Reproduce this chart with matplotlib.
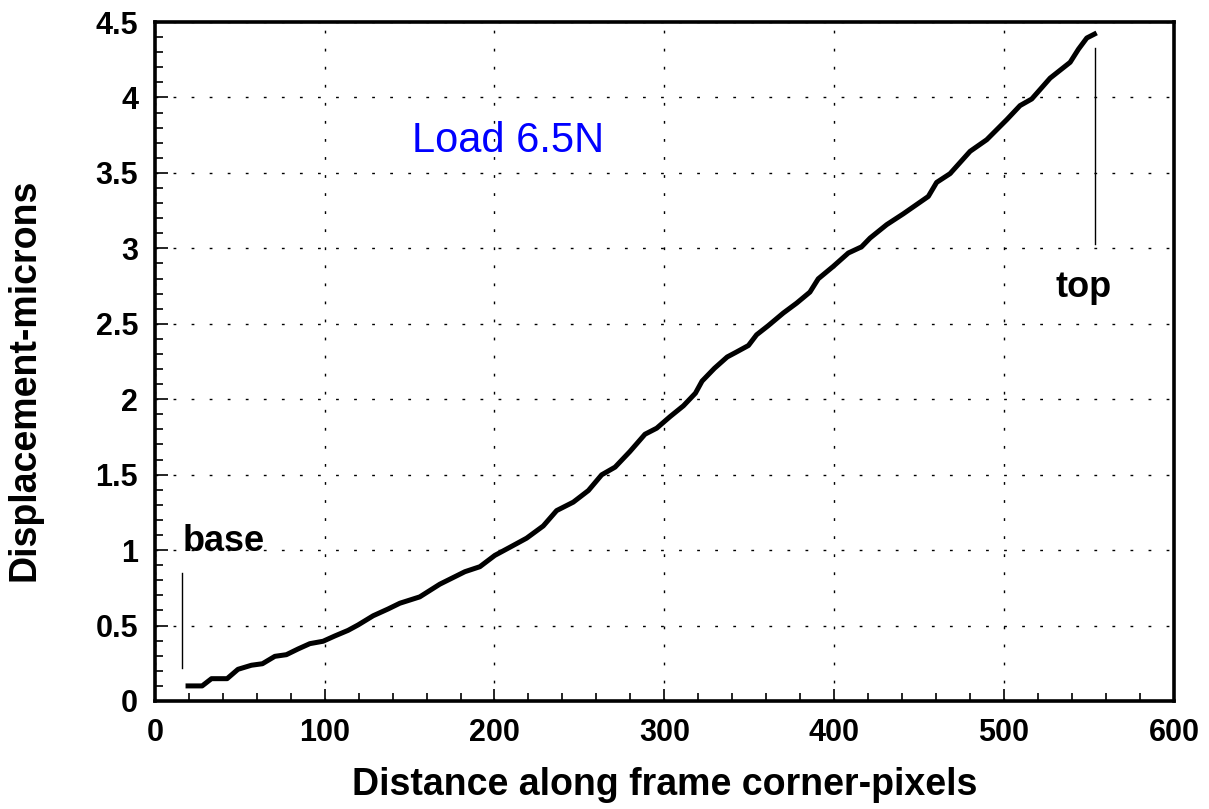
import numpy as np
import matplotlib
matplotlib.use('Agg')
import matplotlib.pyplot as plt
from matplotlib.ticker import MultipleLocator

plt.rcParams['font.family'] = ['Liberation Sans', 'DejaVu Sans']

# displacement along frame corner
distance = [19.6, 27.9, 33.4, 42.6, 49.0, 56.9, 63.4, 70.7, 77.5, 84.4, 91.3, 99.1,
            106.0, 113.8, 119.7, 128.6, 137.4, 144.3, 156.0, 167.8, 182.6, 191.4,
            200.2, 209.1, 218.9, 228.7, 236.6, 246.4, 255.3, 263.1, 271.0, 279.7,
            288.6, 295.5, 303.4, 311.2, 318.3, 322.2, 329.5, 337.0, 342.0, 349.5,
            354.3, 361.1, 370.0, 377.9, 385.7, 390.6, 399.4, 408.3, 416.1, 421.1,
            430.9, 440.7, 455.4, 460.3, 468.2, 480.0, 489.8, 501.6, 509.4, 516.3,
            527.1, 538.9, 543.8, 548.7, 553.2]
displacement = [0.10, 0.10, 0.148, 0.148, 0.21, 0.237, 0.247, 0.296, 0.307, 0.345, 0.38, 0.396,
                0.431, 0.468, 0.504, 0.565, 0.61, 0.648, 0.69, 0.774, 0.857, 0.89,
                0.965, 1.019, 1.079, 1.16, 1.262, 1.318, 1.395, 1.499, 1.55, 1.653,
                1.768, 1.808, 1.885, 1.956, 2.04, 2.12, 2.205, 2.28, 2.31, 2.356,
                2.427, 2.487, 2.571, 2.637, 2.71, 2.798, 2.88, 2.969, 3.01, 3.068,
                3.157, 3.229, 3.344, 3.437, 3.495, 3.643, 3.72, 3.853, 3.946, 3.99,
                4.128, 4.233, 4.32, 4.394, 4.42]

# marker lines for base and top of frame
base_x = 16.3
base_y = [0.22, 0.85]
top_x = 553.8
top_y = [3.03, 4.33]

fig = plt.figure(figsize=(12.09, 8.09), dpi=100)
ax = fig.add_axes([0.128, 0.1335, 0.843, 0.8393])

ax.plot(distance, displacement, color='black', linewidth=3.6, solid_joinstyle='round')
ax.plot([base_x, base_x], base_y, color='black', linewidth=1.0)
ax.plot([top_x, top_x], top_y, color='black', linewidth=1.0)

ax.text(151.4, 3.64, 'Load 6.5N', color='#0000ff', fontsize=30)
ax.text(16.5, 0.995, 'base', fontsize=26, fontweight='bold')
ax.text(530, 2.68, 'top', fontsize=26, fontweight='bold')

ax.set_xlim(0, 600)
ax.set_ylim(0, 4.5)
ax.xaxis.set_major_locator(MultipleLocator(100))
ax.xaxis.set_minor_locator(MultipleLocator(20))
ax.yaxis.set_minor_locator(MultipleLocator(0.1))
ax.set_yticks([0, 0.5, 1, 1.5, 2, 2.5, 3, 3.5, 4, 4.5])
ax.set_yticklabels(['0', '0.5', '1', '1.5', '2', '2.5', '3', '3.5', '4', '4.5'])

ax.tick_params(which='both', direction='in', top=False, right=False, width=1.2)
ax.tick_params(which='major', length=9, labelsize=22, pad=12)
ax.tick_params(which='minor', length=5.5)
for lab in ax.get_xticklabels() + ax.get_yticklabels():
    lab.set_fontweight('bold')

ax.grid(True, which='major', color='black', linewidth=1.0, linestyle=(0, (2, 11)))

for sp in ax.spines.values():
    sp.set_linewidth(2.6)

ax.set_xlabel('Distance along frame corner-pixels', fontsize=27, fontweight='bold', labelpad=14)
ax.set_ylabel('Displacement-microns', fontsize=27, fontweight='bold')
ax.yaxis.set_label_coords(-0.110, 0.473)

fig.savefig('out.png', dpi=100)
